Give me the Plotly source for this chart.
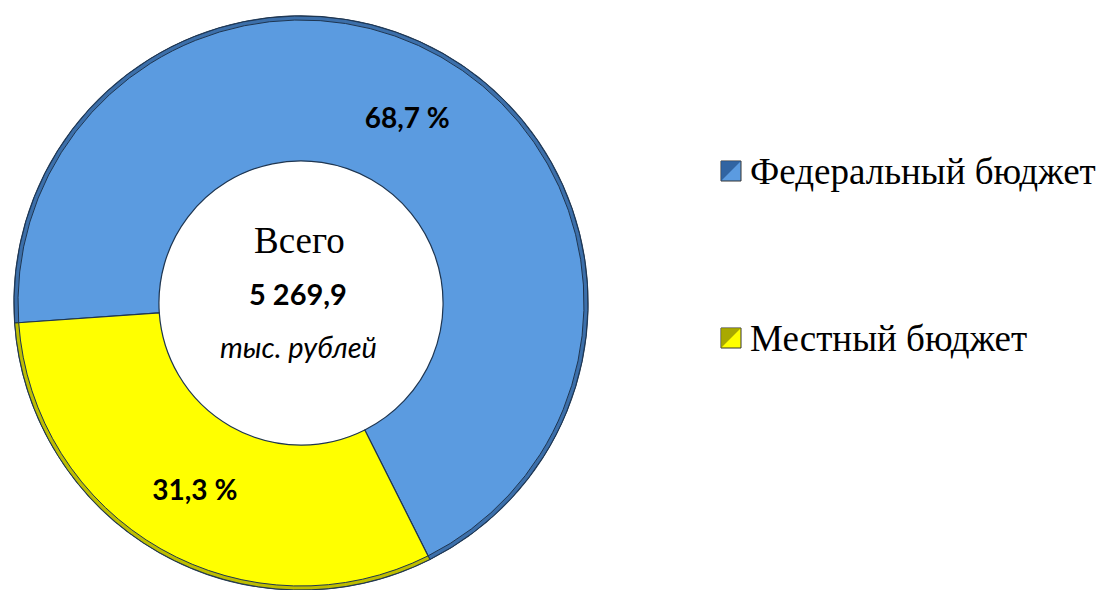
import plotly.graph_objects as go

# Budget structure
categories = ["Федеральный бюджет", "Местный бюджет"]
shares = [68.7, 31.3]
colors = ["#5B9BE0", "#FFFF00"]
edge_colors = ["#3C6FAA", "#BDBD00"]
total_label = "5 269,9"
total_title = "Всего"
total_unit = "тыс. рублей"

W, H = 1101, 590
cx, cy, R = 301, 303, 287  # donut centre and outer radius in pixels
domain = dict(x=[(cx - R) / W, (cx + R) / W], y=[(H - cy - R) / H, (H - cy + R) / H])

fig = go.Figure()
fig.add_trace(go.Pie(
    labels=categories,
    values=shares,
    sort=False,
    direction="clockwise",
    rotation=266,
    hole=0.495,
    marker=dict(colors=colors, line=dict(color="#1E3550", width=1.2)),
    texttemplate="%{value:.1f} %",
    textposition="inside",
    insidetextorientation="horizontal",
    textfont=dict(family="Lato", size=28, color="#000000", weight="bold"),
    showlegend=False,
    hoverinfo="label+percent",
    domain=domain,
))
# darker rim along the outer edge for a bevelled look
fig.add_trace(go.Pie(
    labels=categories,
    values=shares,
    sort=False,
    direction="clockwise",
    rotation=266,
    hole=(R - 4) / R,
    marker=dict(colors=edge_colors, line=dict(color="#1E3550", width=1)),
    textinfo="none",
    showlegend=False,
    hoverinfo="skip",
    domain=domain,
))

def px(x):
    return x / W

def py(y):
    return 1 - y / H

# Centre captions
fig.add_annotation(x=px(cx - 2), y=py(240), text=total_title, showarrow=False,
                   font=dict(family="Liberation Serif", size=37, color="#000"),
                   xref="paper", yref="paper", xanchor="center", yanchor="middle")
fig.add_annotation(x=px(cx - 3), y=py(293), text=total_label, showarrow=False,
                   font=dict(family="Lato", size=29, color="#000", weight="bold"),
                   xref="paper", yref="paper", xanchor="center", yanchor="middle")
fig.add_annotation(x=px(cx - 3), y=py(346), text="<i>" + total_unit + "</i>", showarrow=False,
                   font=dict(family="Lato", size=29, color="#000"),
                   xref="paper", yref="paper", xanchor="center", yanchor="middle")

# Legend drawn as bevelled squares with labels
legend_rows = [171, 338]
bevel_dark = ["#2A5A96", "#9A9A00"]
for name, col, dark, yc in zip(categories, colors, bevel_dark, legend_rows):
    x0, x1, y0, y1 = 721, 741, yc - 10, yc + 10
    fig.add_shape(type="rect", xref="paper", yref="paper",
                  x0=px(x0), x1=px(x1), y0=py(y1), y1=py(y0),
                  fillcolor=col, line=dict(color="#333", width=1))
    fig.add_shape(type="path", xref="paper", yref="paper",
                  path=f"M {px(x0)},{py(y0)} L {px(x1)},{py(y0)} L {px(x0)},{py(y1)} Z",
                  fillcolor=dark, line=dict(width=0), opacity=0.85)
    fig.add_annotation(x=px(748), y=py(yc), text=name, showarrow=False,
                       font=dict(family="Liberation Serif", size=37, color="#000"),
                       xref="paper", yref="paper", xanchor="left", yanchor="middle")

fig.update_layout(
    width=W, height=H,
    margin=dict(l=0, r=0, t=0, b=0),
    paper_bgcolor="#FFFFFF",
    plot_bgcolor="#FFFFFF",
    separators=", ",
)

fig.write_html("out.html")
